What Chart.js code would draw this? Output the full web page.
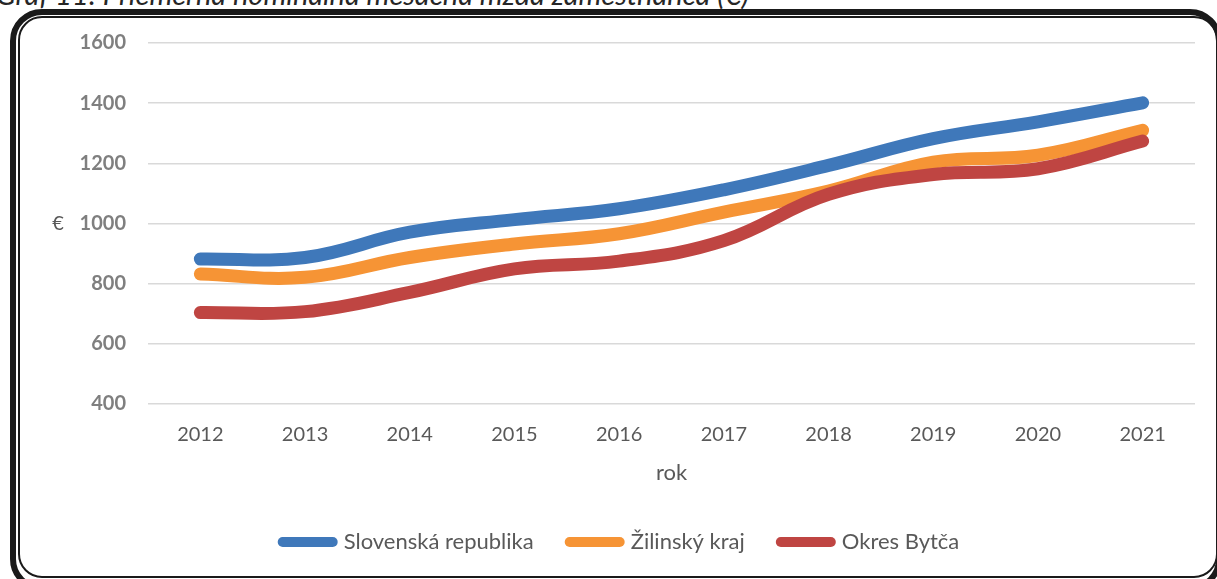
<!DOCTYPE html>
<html>
<head>
<meta charset="utf-8">
<script src="https://cdn.jsdelivr.net/npm/chart.js@4.4.0/dist/chart.umd.min.js"></script>
<style>
  html, body { margin: 0; padding: 0; background: #fff; overflow: hidden; }
  #page { position: relative; width: 1217px; height: 579px; overflow: hidden; }
  #caption {
    position: absolute; left: -4px; top: -24px; white-space: nowrap;
    font: italic 29px Lato, sans-serif; color: #262626;
  }
  #frame-outer {
    position: absolute; left: 10px; top: 9px; width: 1200px; height: 570px;
    border: 6px solid #1a1a1a; border-radius: 32px;
  }
  #frame-inner {
    position: absolute; left: 18px; top: 16px; width: 1196px; height: 558px;
    border: 2px solid #1a1a1a; border-radius: 24px;
  }
  #wrap { position: absolute; left: 0; top: 0; width: 1217px; height: 579px; }
</style>
</head>
<body>
<div id="page">
  <div id="caption">Graf 11: Priemerná nominálna mesačná mzda zamestnanca (€)</div>
  <div id="frame-outer"></div>
  <div id="frame-inner"></div>
  <div id="wrap"><canvas id="wage_chart"></canvas></div>
</div>
<script>
// years on the x axis
const years = ['2012', '2013', '2014', '2015', '2016', '2017', '2018', '2019', '2020', '2021'];

// average monthly wage (EUR)
const slovensko = [882, 887, 971, 1013, 1049, 1112, 1193, 1282, 1338, 1401];
const zilinsky = [832, 821, 887, 932, 966, 1038, 1108, 1204, 1227, 1310];
const bytca = [704, 707, 771, 849, 875, 943, 1097, 1163, 1182, 1274];

const seriesNames = ['Slovenská republika', 'Žilinský kraj', 'Okres Bytča'];
const yTicks = [400, 600, 800, 1000, 1200, 1400, 1600];

// draws the horizontal "€" axis title left of the ticks
const euroTitle = {
  id: 'euroTitle',
  afterDraw(chart) {
    const { ctx, chartArea } = chart;
    ctx.save();
    ctx.font = '20px Lato, sans-serif';
    ctx.fillStyle = '#595959';
    ctx.textAlign = 'center';
    ctx.textBaseline = 'middle';
    ctx.fillText('€', 58, (chartArea.top + chartArea.bottom) / 2);
    ctx.restore();
  }
};

const ctx = document.getElementById('wage_chart').getContext('2d');
const wageChart = new Chart(ctx, {
  type: 'line',
  data: {
    labels: years,
    datasets: [{
      label: seriesNames[0],
      data: slovensko,
      borderColor: '#3f78ba',
      backgroundColor: '#3f78ba',
      order: 3
    }, {
      label: seriesNames[1],
      data: zilinsky,
      borderColor: '#f69435',
      backgroundColor: '#f69435',
      order: 2
    }, {
      label: seriesNames[2],
      data: bytca,
      borderColor: '#bf4542',
      backgroundColor: '#bf4542',
      order: 1
    }]
  },
  options: {
    responsive: true,
    maintainAspectRatio: false,
    animation: false,
    layout: {
      padding: { top: 43, right: 22, bottom: 16, left: 47 }
    },
    elements: {
      line: {
        borderWidth: 13,
        tension: 0.4,
        borderCapStyle: 'round',
        borderJoinStyle: 'round',
        fill: false
      },
      point: { radius: 0, hoverRadius: 0 }
    },
    plugins: {
      tooltip: { enabled: false },
      legend: {
        position: 'bottom',
        labels: {
          usePointStyle: true,
          pointStyle: 'line',
          pointStyleWidth: 50,
          boxHeight: 22,
          padding: 36,
          color: '#595959',
          font: { family: 'Lato, sans-serif', size: 22 },
          generateLabels(chart) {
            const items = Chart.defaults.plugins.legend.labels.generateLabels(chart);
            items.sort((a, b) => a.datasetIndex - b.datasetIndex);
            items.forEach(it => { it.lineWidth = 10; it.lineCap = 'round'; });
            return items;
          }
        }
      }
    },
    scales: {
      x: {
        offset: true,
        grid: { display: false },
        border: { display: false },
        ticks: {
          color: '#595959',
          padding: 11,
          font: { family: 'Lato, sans-serif', size: 20 }
        },
        title: {
          display: true,
          text: 'rok',
          color: '#595959',
          padding: { top: 0, bottom: 9 },
          font: { family: 'Lato, sans-serif', size: 22 }
        },
        afterFit(scale) { scale.height = 91; }
      },
      y: {
        min: 400,
        max: 1600,
        afterBuildTicks(scale) { scale.ticks = yTicks.map(v => ({ value: v })); },
        grid: { color: '#d9d9d9', lineWidth: 1.5, drawTicks: false },
        border: { display: false },
        ticks: {
          color: '#7f7f7f',
          padding: 22,
          callback: v => String(v),
          font: { family: 'Lato, sans-serif', size: 20, weight: 'bold' }
        },
        afterFit(scale) { scale.width = 101; }
      }
    }
  },
  plugins: [euroTitle]
});
</script>
</body>
</html>
